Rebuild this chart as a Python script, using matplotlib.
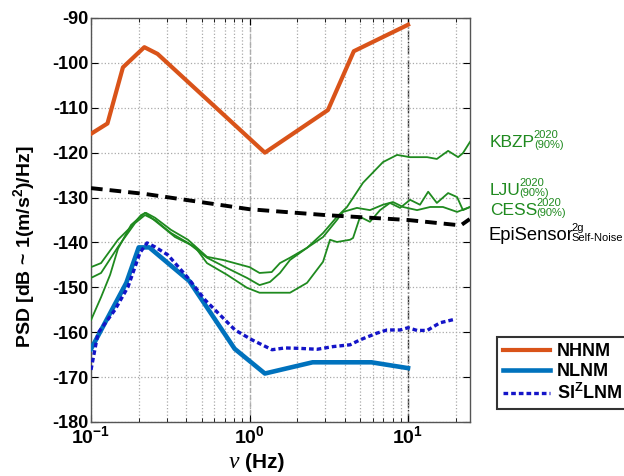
import matplotlib
matplotlib.use("Agg")
import matplotlib.pyplot as plt
from matplotlib.lines import Line2D
import numpy as np

plt.rcParams['font.family'] = ['Liberation Sans', 'DejaVu Sans']
plt.rcParams['mathtext.fontset'] = 'custom'
plt.rcParams['mathtext.rm'] = 'Liberation Sans'
plt.rcParams['mathtext.bf'] = 'Liberation Sans:bold'
plt.rcParams['mathtext.it'] = 'Liberation Sans:italic'

# ---------------- data ----------------
nhnm_f = [0.1, 0.127, 0.159, 0.217, 0.263, 1.25, 3.125, 4.55, 10.0]
nhnm_db = [-115.8, -113.5, -101.0, -96.5, -98.0, -120.0, -110.5, -97.4, -91.5]

nlnm_f = [0.1, 0.167, 0.2, 0.233, 0.417, 0.806, 1.25, 2.5, 5.88, 10.0]
nlnm_db = [-163.75, -149.0, -141.1, -141.1, -148.6, -163.7, -169.2, -166.7, -166.7, -168.0]

sizlnm_f = [0.1, 0.1107, 0.1417, 0.1712, 0.2037, 0.2256, 0.2534, 0.306, 0.409, 0.524,
            0.633, 0.81, 1.037, 1.387, 1.675, 2.08, 2.67, 3.37, 4.31, 4.98, 6.37,
            7.37, 8.91, 10.0, 11.4, 13.2, 15.9, 19.8]
sizlnm_db = [-168.4, -160.2, -155.0, -149.9, -142.3, -140.1, -141.0, -142.8, -147.9, -152.8,
             -155.7, -159.5, -161.7, -163.9, -163.5, -163.6, -163.8, -163.2, -162.8, -161.7, -160.2,
             -159.5, -159.5, -159.0, -159.6, -159.6, -157.9, -157.1]

epi_f = [0.1, 0.22, 1.0, 3.0, 10.0, 21.5, 24.5]
epi_db = [-127.9, -129.2, -132.6, -133.9, -135.0, -136.2, -134.8]

kbzp_f = [0.1, 0.1157, 0.148, 0.1896, 0.219, 0.2534, 0.3197, 0.409, 0.539, 0.721, 0.964,
          1.157, 1.346, 1.556, 1.801, 2.306, 2.91, 3.56, 4.12, 5.20, 6.95, 8.53, 10.3,
          13.2, 15.2, 17.9, 20.7, 22.2, 24.6]
kbzp_db = [-147.9, -146.8, -141.0, -135.7, -133.9, -135.0, -137.9, -140.1, -143.4, -145.7, -147.9,
           -149.5, -148.8, -146.8, -143.9, -141.2, -137.9, -134.3, -132.1, -126.7, -122.1, -120.5, -121.0,
           -121.0, -121.4, -119.6, -121.0, -120.1, -117.6]

lju_f = [0.1, 0.1157, 0.148, 0.179, 0.2068, 0.222, 0.2534, 0.3197, 0.409, 0.539, 0.680, 1.0,
         1.157, 1.38, 1.556, 1.801, 2.306, 2.91, 3.56, 3.89, 4.76, 5.75, 6.95, 8.04, 9.30,
         11.4, 13.8, 16.6, 20.4, 24.6]
lju_db = [-145.5, -144.6, -139.4, -136.5, -133.9, -133.4, -134.5, -137.2, -139.4, -143.2, -143.9, -145.5,
          -146.8, -146.6, -144.6, -143.4, -141.2, -138.8, -135.0, -133.2, -132.3, -132.8, -131.6, -131.0, -132.1,
          -132.8, -132.1, -132.1, -133.2, -132.1]

cess_f = [0.1, 0.1157, 0.132, 0.148, 0.179, 0.219, 0.2647, 0.339, 0.453, 0.539, 0.721, 0.964,
          1.157, 1.556, 1.801, 2.306, 2.91, 3.22, 3.56, 4.31, 4.50, 4.98, 5.75, 6.66, 7.69, 8.91,
          10.3, 11.9, 13.4, 15.2, 17.9, 20.4, 22.2, 24.6]
cess_db = [-157.3, -152.2, -147.2, -141.4, -136.1, -133.4, -135.7, -138.8, -141.0, -144.6, -147.2, -150.1,
           -151.2, -151.2, -151.2, -149.0, -144.3, -139.4, -139.9, -139.4, -139.0, -134.3, -135.4, -132.8, -131.2, -132.3,
           -130.5, -131.6, -128.7, -131.2, -129.0, -129.9, -132.8, -132.1]

yticks = [-180, -170, -160, -150, -140, -130, -120, -110, -100, -90]
xticks = [0.1, 1, 10]
xticklabels = [r'$\mathbf{10^{-1}}$', r'$\mathbf{10^{0}}$', r'$\mathbf{10^{1}}$']

side_labels = [('KBZP', '2020', '(90%)'), ('LJU', '2020', '(90%)'),
               ('CESS', '2020', '(90%)'), ('EpiSensor', '2g', 'Self-Noise')]

orange = '#D95319'
blue = '#0072BD'
dblue = '#1414C8'
green = '#1F8A1F'

# ---------------- figure ----------------
fig = plt.figure(figsize=(6.24, 4.76), dpi=100)
ax = fig.add_axes([91/624, 1-422/476, (470-91)/624, (422-18)/476])
ax.set_xscale('log')
ax.set_xlim(0.1, 24.6)
ax.set_ylim(-180, -90)

ax.grid(True, which='both', color='#aaaaaa', linestyle=':', linewidth=0.9)
ax.axvline(1, color='#b0b0b0', linestyle='--', linewidth=1.0, zorder=1)
ax.axvline(10, color='#333333', linestyle='-.', linewidth=1.0, zorder=1)

for f, d in [(kbzp_f, kbzp_db), (lju_f, lju_db), (cess_f, cess_db)]:
    ax.plot(f, d, color=green, lw=1.3, zorder=3)
ax.plot(epi_f, epi_db, color='black', lw=2.8, linestyle=(0, (3, 1.8)), zorder=4)
ax.plot(nhnm_f, nhnm_db, color=orange, lw=3.0, zorder=5)
ax.plot(nlnm_f, nlnm_db, color=blue, lw=3.3, zorder=5)
ax.plot(sizlnm_f, sizlnm_db, color=dblue, lw=2.4, linestyle=(0, (1.4, 0.9)), zorder=6)

ax.set_yticks(yticks)
ax.set_yticklabels([str(v) for v in yticks], fontsize=13, fontweight='bold')
ax.set_xticks(xticks)
ax.set_xticklabels(xticklabels, fontsize=14)
ax.tick_params(which='both', direction='in', top=True, right=True)
ax.tick_params(which='major', length=5, pad=2)
ax.tick_params(which='minor', length=3)
for s in ax.spines.values():
    s.set_color('#555555')
    s.set_linewidth(1.0)

fig.text(24/624, 1-247/476, r'PSD [dB ~ 1(m/s$^\mathbf{2}$)/Hz]', rotation=90,
         ha='center', va='center', fontsize=14, fontweight='bold')
fig.text(234/624, 1-463/476, 'ν', family='Liberation Serif', style='italic',
         fontsize=17, ha='center', va='center')
fig.text(245/624, 1-463/476, '(Hz)', fontsize=15, fontweight='bold', ha='left', va='center')

# right-hand labels: main text + small superscript / subscript
renderer = fig.canvas.get_renderer()
label_pos = [(490, 147, green, 12.5), (490, 195, green, 12.5),
             (490, 215, green, 12.5), (488, 240, 'black', 13.2)]
for (main, sup, sub), (px, py, col, fs) in zip(side_labels, label_pos):
    t = fig.text(px/624, 1-py/476, main, color=col, fontsize=fs, va='baseline')
    bb = t.get_window_extent(renderer)
    x_end = bb.x1 / fig.dpi / fig.get_figwidth()
    fig.text(x_end - 0.002, 1-(py-9)/476, sup, color=col, fontsize=8, va='baseline')
    fig.text(x_end - 0.002, 1-(py+1)/476, sub, color=col, fontsize=8, va='baseline')

handles = [Line2D([], [], color=orange, lw=3.0),
           Line2D([], [], color=blue, lw=3.3),
           Line2D([], [], color=dblue, lw=2.4, linestyle=(0, (1.4, 0.9)))]
labels = ['NHNM', 'NLNM', r'SI$^{\mathbf{Z}}$LNM']
leg = fig.legend(handles, labels, loc='upper left', bbox_to_anchor=(497/624, 1-337/476),
                 frameon=True, fancybox=False, edgecolor='#333333', framealpha=1,
                 prop={'weight': 'bold', 'size': 13}, handlelength=2.6, handletextpad=0.35,
                 labelspacing=0.15, borderpad=0.35, borderaxespad=0)
leg.get_frame().set_linewidth(1.5)

fig.savefig('out.png', dpi=100)
